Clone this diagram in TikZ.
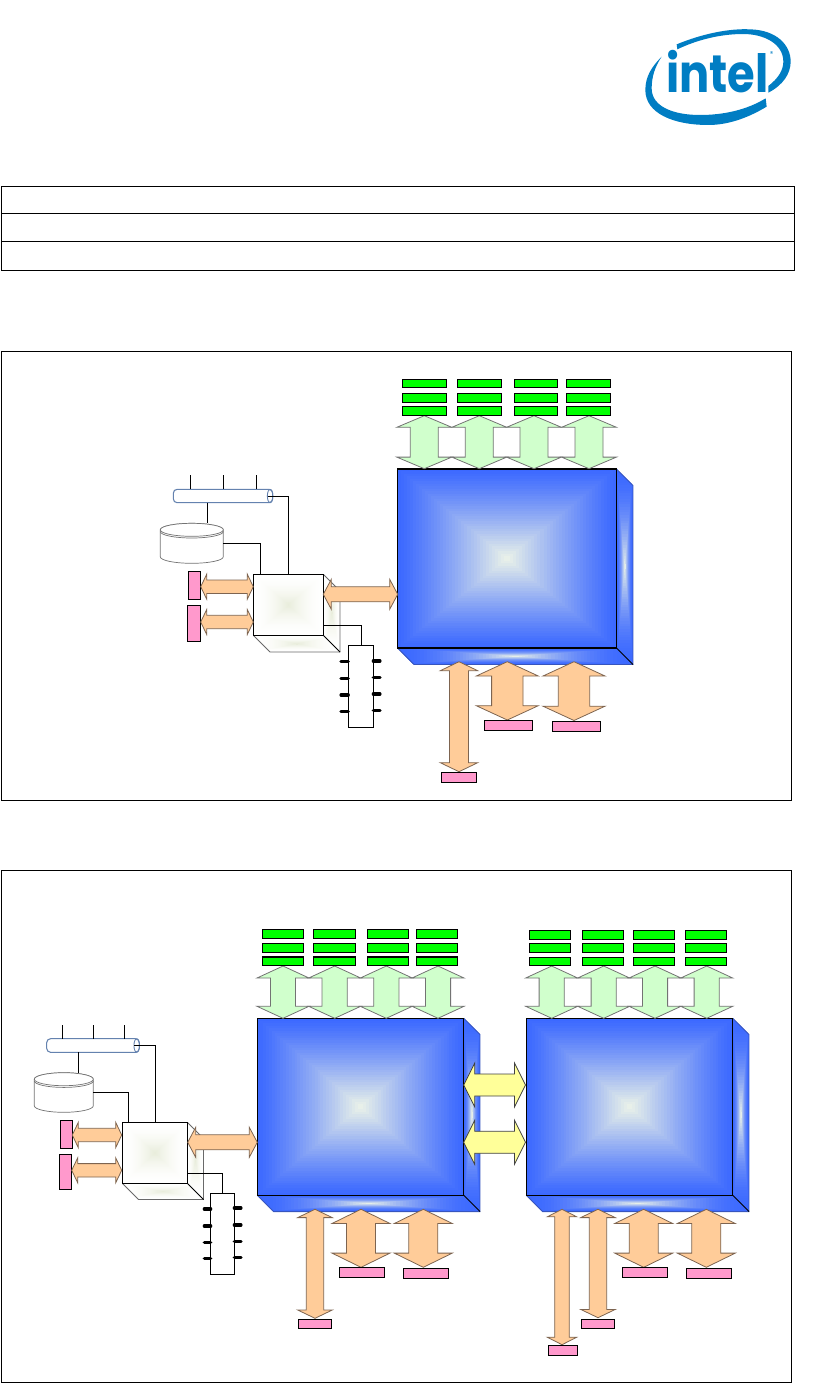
\documentclass[tikz,border=0pt]{standalone}
\usepackage{fontspec}
\usepackage{xcolor}
\usepackage{tikz}
\newfontfamily\logofont{Poppins}

\definecolor{logoblue}{RGB}{0,125,195}
\definecolor{boxblue}{RGB}{60,105,255}
\definecolor{boxpale}{RGB}{238,245,232}
\definecolor{boxrim}{RGB}{55,85,190}
\definecolor{hubpale}{RGB}{232,236,218}
\definecolor{hubrim}{RGB}{105,105,105}
\definecolor{greenarrow}{RGB}{208,255,204}
\definecolor{orangearrow}{RGB}{255,204,153}
\definecolor{orangeline}{RGB}{125,100,80}
\definecolor{yellowarrow}{RGB}{255,255,153}
\definecolor{pinkbox}{RGB}{255,153,204}
\definecolor{busline}{RGB}{100,130,175}

\tikzset{
  frameline/.style={draw=black, line width=0.57pt},
  wire/.style={draw=black, line width=0.57pt},
  greenbar/.style={draw=black, line width=0.6pt, fill=green},
  pinkbar/.style={draw=black, line width=0.6pt, fill=pinkbox},
  chipbox/.style={draw=black, line width=0.6pt, fill=white},
  busbox/.style={draw=busline, line width=0.6pt, fill=white, rounded corners=2.2pt},
  diskline/.style={draw=black!55, line width=0.4pt, fill=white},
  chippin/.style={draw=black, line width=1.8pt, line cap=round},
  greenflow/.style={draw=black!55, line width=0.45pt, fill=greenarrow},
  orangeflow/.style={draw=orangeline, line width=0.45pt, fill=orangearrow},
  yellowflow/.style={draw=black!75, line width=0.45pt, fill=yellowarrow},
  every node/.append style={inner sep=0pt, outer sep=0pt}
}

% box given by its corners, in pixels
\newcommand{\pxbox}[6]{%
  \node[#1, anchor=north west, minimum width={(#5-#3)*0.02cm},
        minimum height={(#6-#4)*0.02cm}] (#2) at (#3,#4) {};}
% nested rectangles: edge colour, centre colour, power
\newcommand{\pxshade}[7]{%
  \foreach \i in {0,...,35}{
    \pgfmathsetmacro\fr{\i/36}
    \pgfmathsetmacro\pct{100*\fr^#7}
    \fill[#6!\pct!#5] ({#1+\fr*(#3-#1)/2},{#2+\fr*(#4-#2)/2})
      rectangle ({#3-\fr*(#3-#1)/2},{#4-\fr*(#4-#2)/2});
  }}
\newcommand{\frontpow}{1.15}
% cube: name, x0, y0, x1, y1, depth, edge, centre, rim
\newcommand{\pxcube}[9]{%
  \begin{scope}
    \clip (#4,#3) -- ({#4+#6},{#3+#6}) -- ({#4+#6},{#5+#6}) -- (#4,#5) -- cycle;
    \pxshade{#4}{#3}{#4+#6}{#5+#6}{#7}{#8}{1.8}
  \end{scope}
  \begin{scope}
    \clip (#2,#5) -- (#4,#5) -- ({#4+#6},{#5+#6}) -- ({#2+#6},{#5+#6}) -- cycle;
    \pxshade{#2}{#5}{#4+#6}{#5+#6}{#7}{#8}{1.8}
  \end{scope}
  \draw[#9, line width=0.5pt] (#4,#3) -- ({#4+#6},{#3+#6}) -- ({#4+#6},{#5+#6})
    -- ({#2+#6},{#5+#6}) -- (#2,#5);
  \pxshade{#2}{#3}{#4}{#5}{#7}{#8}{\frontpow}
  \draw[black, line width=0.5pt] (#4,#5) -- ({#4+#6},{#5+#6});
  \pxbox{draw=black, line width=0.6pt}{#1}{#2}{#3}{#4}{#5}}
% vertical two-way arrow: style, cx, ytop, ybot, head half, head length, body half
\newcommand{\vflow}[7]{%
  \draw[#1] (#2,#3) -- ({#2+#5},{#3+#6}) -- ({#2+#7},{#3+#6}) -- ({#2+#7},{#4-#6})
    -- ({#2+#5},{#4-#6}) -- (#2,#4) -- ({#2-#5},{#4-#6}) -- ({#2-#7},{#4-#6})
    -- ({#2-#7},{#3+#6}) -- ({#2-#5},{#3+#6}) -- cycle;}
% horizontal two-way arrow: style, xleft, xright, cy, head half, head length, body half
\newcommand{\hflow}[7]{%
  \draw[#1] (#2,#4) -- ({#2+#6},{#4-#5}) -- ({#2+#6},{#4-#7}) -- ({#3-#6},{#4-#7})
    -- ({#3-#6},{#4-#5}) -- (#3,#4) -- ({#3-#6},{#4+#5}) -- ({#3-#6},{#4+#7})
    -- ({#2+#6},{#4+#7}) -- ({#2+#6},{#4+#5}) -- cycle;}
% bus: name, x0, y0, x1, y1
\newcommand{\pxbus}[5]{%
  \pxbox{busbox}{#1}{#2}{#3}{#4}{#5}
  \draw[busline, line width=0.5pt] ({#4-2.6},#3) arc[start angle=90, end angle=-270,
    x radius=0.055cm, y radius={(#5-#3)/2*0.02cm}];}
% disk: name, x0, y0, x1, y1
\newcommand{\pxdisk}[5]{%
  \pxbox{inner sep=0pt}{#1}{#2}{#3}{#4}{#5}
  \draw[diskline] (#2,{#3+6.5}) -- (#2,{#5-6.5})
    arc[start angle=180, end angle=360, x radius={(#4-#2)/2*0.02cm}, y radius=0.13cm]
    -- (#4,{#3+6.5})
    arc[start angle=0, end angle=180, x radius={(#4-#2)/2*0.02cm}, y radius=0.13cm];
  \draw[diskline] (#2,{#3+6.5})
    arc[start angle=180, end angle=360, x radius={(#4-#2)/2*0.02cm}, y radius=0.13cm]
    arc[start angle=0, end angle=180, x radius={(#4-#2)/2*0.02cm}, y radius=0.13cm];
  \draw[diskline, fill=none] (#2,{#3+8.2})
    arc[start angle=180, end angle=360, x radius={(#4-#2)/2*0.02cm}, y radius=0.13cm];}

\begin{document}
\begin{tikzpicture}[x=0.02cm, y=-0.02cm]
\useasboundingbox (0,0) rectangle (820,1383);

% ===== logo =====
\begin{scope}[shift={(620,10)}, x=0.00667cm, y=-0.00667cm]
  \fill[logoblue] (170,103) .. controls (250,70) and (330,55) .. (390,58)
    .. controls (470,60) and (512,105) .. (512,155)
    .. controls (512,190) and (490,225) .. (445,248) -- (445,228)
    .. controls (475,205) and (490,180) .. (490,155)
    .. controls (490,100) and (430,72) .. (370,72)
    .. controls (300,72) and (230,90) .. (172,118) -- cycle;
  \fill[logoblue] (125,140) .. controls (95,170) and (76,200) .. (76,240)
    .. controls (76,310) and (160,345) .. (265,345)
    .. controls (330,345) and (390,320) .. (440,290) -- (437,265)
    .. controls (380,300) and (310,315) .. (240,315)
    .. controls (160,315) and (95,290) .. (95,235)
    .. controls (95,200) and (105,170) .. (125,140) -- cycle;
\end{scope}
\node[anchor=base west, xscale=0.85, transform shape, text=logoblue, font=\logofont\fontsize{30}{30}\selectfont\bfseries] (logo) at (666,92.5) {intel};
\node[text=logoblue, font=\logofont\fontsize{4}{4}\selectfont] (logoreg) at (771.7,54.3) {®};

% ===== table =====
\pxbox{frameline}{table}{1.5}{186.5}{794.5}{270.5}
\coordinate (rowa) at (1.5,213.5);
\coordinate (rowb) at (1.5,241.5);
\draw[frameline] (rowa) -- (rowa -| table.east);
\draw[frameline] (rowb) -- (rowb -| table.east);

% ===== panels =====
\pxbox{frameline}{panela}{1.5}{351.5}{791.5}{800.5}
\pxbox{frameline}{panelb}{1.5}{870.5}{791.5}{1382.5}

% ===== panel a: processor =====
\pxcube{cpua}{397.5}{469}{616.5}{648}{16.5}{boxblue}{boxpale}{boxrim}
\foreach \cx in {424.3,479.3,534,589}{
  \vflow{greenflow}{\cx}{415.7}{468.7}{27.5}{11.6}{14}
}
\foreach \xa/\xb [count=\c] in {402.3/446.7,457.3/501.7,514.3/557.7,566.3/610.3}{
  \foreach \ya/\yb [count=\r] in {379.3/387.7,393.3/402.3,406.3/415.3}{
    \pxbox{greenbar}{dimma-\c-\r}{\xa}{\ya}{\xb}{\yb}
  }
}

% ===== panel a: bottom arrows =====
\vflow{orangeflow}{459}{661.7}{771.7}{18.7}{9}{9.5}
\vflow{orangeflow}{507.3}{661.7}{720}{31}{14.3}{15.7}
\vflow{orangeflow}{574}{661.7}{720.5}{31}{14.3}{15.7}
\pxbox{pinkbar}{slota}{441.3}{772.3}{476.7}{782.3}
\pxbox{pinkbar}{slotb}{484.3}{720.3}{532.7}{730.3}
\pxbox{pinkbar}{slotc}{552.3}{721.3}{600.7}{731.3}

% ===== panel a: hub and its devices =====
\renewcommand{\frontpow}{1.8}
\pxcube{huba}{253.5}{574.5}{323.5}{635.5}{16.5}{white}{hubpale}{hubrim}
\pxbus{busa}{173.3}{489.3}{272.7}{502.7}
\pxdisk{diska}{160.3}{523.3}{223.3}{563.3}
\pxbox{chipbox}{chipa}{348.5}{645.5}{373.5}{727.5}
\pxbox{pinkbar}{porta}{188.3}{571.3}{200.7}{599.3}
\pxbox{pinkbar}{portb}{187.3}{605.3}{200.7}{641.3}
\hflow{orangeflow}{200.7}{253.3}{586.7}{12.5}{6}{6.7}
\hflow{orangeflow}{200.7}{253.3}{622}{12.5}{6}{6.7}
\hflow{orangeflow}{323.3}{397.7}{594.3}{15}{8}{7.5}

\foreach \px/\nm in {190.5/a,223.5/b,256.5/c}{
  \coordinate (taba\nm) at (\px,475.3);
  \draw[wire] (taba\nm) -- (taba\nm |- busa.north);
}
\coordinate (busaout) at (207.5,502.7);
\coordinate (hubain) at (260.5,574.5);
\coordinate (hubaout) at (323.5,625.5);
\draw[wire] (busa.east) ++(-5,0) -| (huba.north);
\draw[wire] (busaout) -- (busaout |- diska.north);
\draw[wire] (diska.east) -| (hubain);
\draw[wire] (hubaout) -| (chipa.north);
\foreach \py in {661.7,678.7,695,711.7}
  \draw[chippin] (341,\py) -- (348.3,\py);
\foreach \py in {661,677.7,694,710.7}
  \draw[chippin] (373.3,\py) -- (380,\py);

% ===== panel b: processors =====
\renewcommand{\frontpow}{1.15}
\pxcube{cpub}{257.3}{1018.3}{463.7}{1195.3}{16.3}{boxblue}{boxpale}{boxrim}
\pxcube{cpuc}{526.3}{1018.3}{732.7}{1195.3}{16.3}{boxblue}{boxpale}{boxrim}
\foreach \cx in {283,334.7,386.3,438,551.7,603.7,655,706.7}{
  \vflow{greenflow}{\cx}{966}{1018.3}{26}{12}{12.6}
}
\foreach \xa/\xb [count=\c] in {262.3/303.7,313.3/355.7,367.3/408.7,416.3/457.7}{
  \foreach \ya/\yb [count=\r] in {929.3/938.7,943.3/952.7,957/965.7}{
    \pxbox{greenbar}{dimmb-\c-\r}{\xa}{\ya}{\xb}{\yb}
  }
}
\foreach \xa/\xb [count=\c] in {529.3/570.7,582.3/623.7,633.3/674.7,685.3/726.7}{
  \foreach \ya/\yb [count=\r] in {930.3/939.7,943.3/952.3,957.3/965.7}{
    \pxbox{greenbar}{dimmc-\c-\r}{\xa}{\ya}{\xb}{\yb}
  }
}

% ===== panel b: link between processors =====
\hflow{yellowflow}{463.7}{525.5}{1085}{22}{11}{11}
\hflow{yellowflow}{463.7}{525.5}{1142.3}{22}{11}{11}

% ===== panel b: bottom arrows =====
\vflow{orangeflow}{315}{1209.3}{1318.3}{17.3}{8.3}{8.7}
\vflow{orangeflow}{361}{1209.3}{1267.3}{29}{14.2}{14.5}
\vflow{orangeflow}{423.3}{1209.3}{1267.3}{29}{14.2}{14.5}
\vflow{orangeflow}{562}{1209.3}{1344.7}{14.7}{7.5}{7.3}
\vflow{orangeflow}{598}{1209.3}{1317.7}{17.3}{8.3}{8.7}
\vflow{orangeflow}{643.7}{1209.3}{1267.3}{29}{14.2}{14.5}
\vflow{orangeflow}{706.3}{1209.3}{1267.3}{29}{14.2}{14.5}
\pxbox{pinkbar}{slotd}{298.3}{1319.3}{331.7}{1328.3}
\pxbox{pinkbar}{slote}{339.3}{1267.3}{384.7}{1277.3}
\pxbox{pinkbar}{slotf}{403.3}{1268.3}{448.7}{1278.3}
\pxbox{pinkbar}{slotg}{548.3}{1345.3}{577.3}{1355.3}
\pxbox{pinkbar}{sloth}{581.3}{1319.3}{614.7}{1328.3}
\pxbox{pinkbar}{sloti}{622.3}{1267.3}{667.7}{1277.3}
\pxbox{pinkbar}{slotj}{686.3}{1268.3}{731.7}{1278.3}

% ===== panel b: hub and its devices =====
\renewcommand{\frontpow}{1.8}
\pxcube{hubb}{122.5}{1122.5}{187.5}{1183.5}{16}{white}{hubpale}{hubrim}
\pxbus{busb}{46.7}{1038.7}{139.3}{1052.3}
\pxdisk{diskb}{34.3}{1072.7}{93.3}{1112.3}
\pxbox{chipbox}{chipb}{210.5}{1193.5}{234.5}{1274.5}
\pxbox{pinkbar}{portc}{60.3}{1120.3}{72.3}{1148.3}
\pxbox{pinkbar}{portd}{59.3}{1154.3}{71.7}{1189.3}
\hflow{orangeflow}{72.3}{121.7}{1135}{12.7}{6}{6.7}
\hflow{orangeflow}{71.7}{121.7}{1170.3}{12.5}{6}{6.7}
\hflow{orangeflow}{187.7}{257.3}{1142.3}{15}{8}{7.5}

\foreach \px/\nm in {62.5/a,93.5/b,124.5/c}{
  \coordinate (tabb\nm) at (\px,1025.3);
  \draw[wire] (tabb\nm) -- (tabb\nm |- busb.north);
}
\coordinate (busbout) at (78.5,1052.3);
\coordinate (hubbin) at (128.5,1122.5);
\coordinate (hubbout) at (187.5,1173.5);
\draw[wire] (busb.east) ++(-5,0) -| (hubb.north);
\draw[wire] (busbout) -- (busbout |- diskb.north);
\draw[wire] (diskb.east) -| (hubbin);
\draw[wire] (hubbout) -| (chipb.north);
\foreach \py in {1209,1226,1242.7,1258.7}
  \draw[chippin] (204.3,\py) -- (210.7,\py);
\foreach \py in {1208,1225,1241.7,1257.7}
  \draw[chippin] (234.3,\py) -- (241,\py);
\end{tikzpicture}
\end{document}
